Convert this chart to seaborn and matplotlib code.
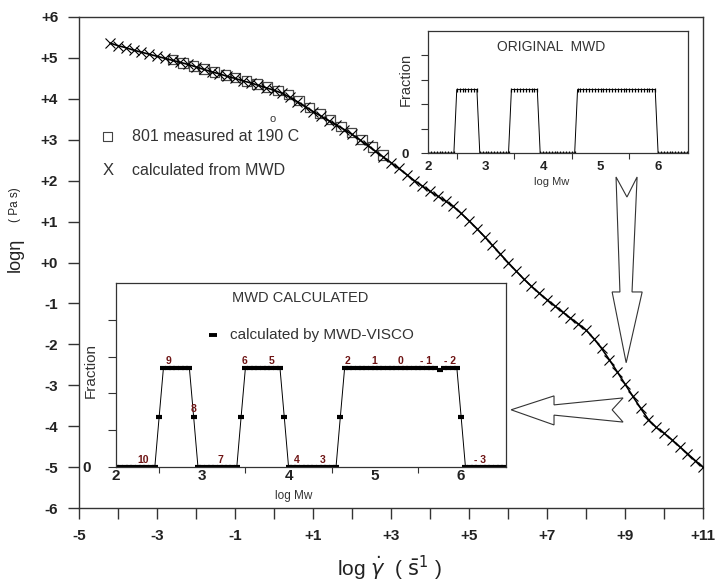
import matplotlib
matplotlib.use("Agg")
import matplotlib.pyplot as plt
from matplotlib.patches import Polygon
import seaborn as sns

# log shear rate / log viscosity, calculated from the MWD (X markers)
calc_rate = [-4.2, -4.0, -3.8, -3.6, -3.4, -3.2, -3.0, -2.8, -2.6, -2.4,
             -2.2, -2.0, -1.8, -1.6, -1.4, -1.2, -1.0, -0.8, -0.6, -0.4,
             -0.2, 0.0, 0.2, 0.4, 0.6, 0.8, 1.0, 1.2, 1.4, 1.6,
             1.8, 2.0, 2.2, 2.4, 2.6, 2.8, 3.0, 3.2, 3.4, 3.6,
             3.8, 4.0, 4.2, 4.4, 4.6, 4.8, 5.0, 5.2, 5.4, 5.6,
             5.8, 6.0, 6.2, 6.4, 6.6, 6.8, 7.0, 7.2, 7.4, 7.6,
             7.8, 8.0, 8.2, 8.4, 8.6, 8.8, 9.0, 9.2, 9.4, 9.6,
             9.8, 10.0, 10.2, 10.4, 10.6, 10.8, 11.0]
calc_visc = [5.36, 5.30, 5.25, 5.19, 5.14, 5.09, 5.04, 4.99, 4.94, 4.89,
             4.84, 4.78, 4.72, 4.66, 4.61, 4.55, 4.50, 4.44, 4.39, 4.33,
             4.27, 4.21, 4.14, 4.04, 3.93, 3.81, 3.69, 3.58, 3.47, 3.36,
             3.25, 3.13, 3.00, 2.86, 2.72, 2.58, 2.44, 2.30, 2.15, 2.00,
             1.87, 1.74, 1.62, 1.50, 1.37, 1.20, 1.02, 0.83, 0.63, 0.42,
             0.21, 0.00, -0.20, -0.40, -0.58, -0.75, -0.91, -1.06, -1.21, -1.36,
             -1.50, -1.65, -1.86, -2.10, -2.38, -2.67, -2.97, -3.27, -3.56, -3.84,
             -4.03, -4.17, -4.33, -4.50, -4.67, -4.84, -5.00]

# 801 measured at 190 C (squares)
meas_rate = [-2.60, -2.33, -2.06, -1.79, -1.52, -1.25, -0.98, -0.71, -0.44, -0.17,
             0.10, 0.37, 0.64, 0.91, 1.18, 1.45, 1.72, 1.99, 2.26, 2.53, 2.80]
meas_visc = [4.96, 4.88, 4.80, 4.73, 4.66, 4.58, 4.52, 4.44, 4.36, 4.29,
             4.21, 4.10, 3.96, 3.79, 3.64, 3.49, 3.33, 3.18, 3.01, 2.82, 2.63]

# MWD bins (log Mw)
mwd_logm = [2.00, 2.05, 2.10, 2.15, 2.20, 2.25, 2.30, 2.35, 2.40, 2.45,
            2.50, 2.55, 2.60, 2.65, 2.70, 2.75, 2.80, 2.85, 2.90, 2.95,
            3.00, 3.05, 3.10, 3.15, 3.20, 3.25, 3.30, 3.35, 3.40, 3.45,
            3.50, 3.55, 3.60, 3.65, 3.70, 3.75, 3.80, 3.85, 3.90, 3.95,
            4.00, 4.05, 4.10, 4.15, 4.20, 4.25, 4.30, 4.35, 4.40, 4.45,
            4.50, 4.55, 4.60, 4.65, 4.70, 4.75, 4.80, 4.85, 4.90, 4.95,
            5.00, 5.05, 5.10, 5.15, 5.20, 5.25, 5.30, 5.35, 5.40, 5.45,
            5.50, 5.55, 5.60, 5.65, 5.70, 5.75, 5.80, 5.85, 5.90, 5.95,
            6.00, 6.05, 6.10, 6.15, 6.20, 6.25, 6.30, 6.35, 6.40, 6.45,
            6.50]
mwd_orig = [0, 0, 0, 0, 0, 0, 0, 0, 0, 0,
            2.6, 2.6, 2.6, 2.6, 2.6, 2.6, 2.6, 2.6, 0, 0,
            0, 0, 0, 0, 0, 0, 0, 0, 0, 2.6,
            2.6, 2.6, 2.6, 2.6, 2.6, 2.6, 2.6, 2.6, 2.6, 0,
            0, 0, 0, 0, 0, 0, 0, 0, 0, 0,
            0, 0, 2.6, 2.6, 2.6, 2.6, 2.6, 2.6, 2.6, 2.6,
            2.6, 2.6, 2.6, 2.6, 2.6, 2.6, 2.6, 2.6, 2.6, 2.6,
            2.6, 2.6, 2.6, 2.6, 2.6, 2.6, 2.6, 2.6, 2.6, 2.6,
            0, 0, 0, 0, 0, 0, 0, 0, 0, 0,
            0]
mwd_calc = [0, 0, 0, 0, 0, 0, 0, 0, 0, 0,
            1.36, 2.7, 2.7, 2.7, 2.7, 2.7, 2.7, 2.7, 1.36, 0,
            0, 0, 0, 0, 0, 0, 0, 0, 0, 1.36,
            2.7, 2.7, 2.7, 2.7, 2.7, 2.7, 2.7, 2.7, 2.7, 1.36,
            0, 0, 0, 0, 0, 0, 0, 0, 0, 0,
            0, 0, 1.36, 2.7, 2.7, 2.7, 2.7, 2.7, 2.7, 2.7,
            2.7, 2.7, 2.7, 2.7, 2.7, 2.7, 2.7, 2.7, 2.7, 2.7,
            2.7, 2.7, 2.7, 2.7, 2.7, 2.63, 2.7, 2.7, 2.7, 2.7,
            1.36, 0, 0, 0, 0, 0, 0, 0, 0, 0,
            0]

# numbered relaxation modes written over the calculated MWD
mode_tags = ["10", "9", "8", "7", "6", "5", "4", "3", "2", "1", "0", "- 1", "- 2", "- 3"]
mode_logm = [2.31, 2.61, 2.90, 3.21, 3.49, 3.80, 4.09, 4.39, 4.68, 4.99, 5.30, 5.59, 5.87, 6.22]
mode_frac = [0.2, 2.87, 1.57, 0.2, 2.87, 2.87, 0.2, 0.2, 2.87, 2.87, 2.87, 2.87, 2.87, 0.2]

y_ticks = [-6, -5, -4, -3, -2, -1, 0, 1, 2, 3, 4, 5, 6]
y_labels = ["-6", "-5", "-4", "-3", "-2", "-1", "+0", "+1", "+2", "+3", "+4", "+5", "+6"]
x_ticks = [-5, -4, -3, -2, -1, 0, 1, 2, 3, 4, 5, 6, 7, 8, 9, 10, 11]
x_labels = ["-5", "", "-3", "", "-1", "", "+1", "", "+3", "", "+5", "", "+7", "", "+9", "", "+11"]
mw_ticks = [2, 3, 4, 5, 6]

# hollow arrows (main axes data coordinates)
down_arrow_x = [8.77, 9.05, 9.31, 9.18, 9.44, 9.03, 8.67, 8.87]
down_arrow_y = [2.09, 1.60, 2.09, -0.72, -0.72, -2.45, -0.72, -0.72]
left_arrow_x = [6.08, 7.18, 7.18, 8.95, 8.67, 8.95, 7.18, 7.18]
left_arrow_y = [-3.60, -3.26, -3.48, -3.31, -3.60, -3.90, -3.73, -3.97]

sns.set_style("ticks")
plt.rcParams["font.family"] = ["Liberation Sans", "DejaVu Sans"]
plt.rcParams["mathtext.fontset"] = "dejavusans"

ink = "#222222"
spine_c = "#333333"

fig = plt.figure(figsize=(7.15, 5.82), dpi=100)
ax = fig.add_axes([79 / 715, 1 - 508 / 582, 624 / 715, 491 / 582])

sns.scatterplot(x=meas_rate, y=meas_visc, ax=ax, marker="s", s=46,
                facecolors="none", edgecolors="#4a4a4a", linewidth=0.9, zorder=2)
sns.lineplot(x=calc_rate, y=calc_visc, ax=ax, color="black", lw=1.2,
             marker="x", markersize=7, markeredgecolor="black",
             markeredgewidth=0.8, zorder=3)

ax.set_xlim(-5, 11)
ax.set_ylim(-6, 6)
ax.set_xticks(x_ticks)
ax.set_xticklabels(x_labels)
ax.set_yticks(y_ticks)
ax.set_yticklabels(y_labels)
ax.tick_params(direction="out", length=8, width=1, color=spine_c, pad=7,
               labelsize=11, labelcolor=ink)
for lab in ax.get_xticklabels() + ax.get_yticklabels():
    lab.set_fontweight("bold")
for sp in ax.spines.values():
    sp.set_color(spine_c)
    sp.set_linewidth(1)
ax.set_xlabel("")
ax.set_ylabel("")

# legend of the main panel
ax.scatter([0.046], [0.756], transform=ax.transAxes, marker="s", s=40,
           facecolors="none", edgecolors="#444444", linewidth=0.8)
ax.text(0.085, 0.756, "801 measured at 190 C", transform=ax.transAxes,
        fontsize=11.5, color="#333333", va="center")
ax.text(0.311, 0.792, "o", transform=ax.transAxes, fontsize=8,
        color="#333333", va="center", ha="center")
ax.text(0.046, 0.688, "X", transform=ax.transAxes, fontsize=12,
        color="#333333", va="center", ha="center")
ax.text(0.085, 0.688, "calculated from MWD", transform=ax.transAxes,
        fontsize=11.5, color="#333333", va="center")

ax.add_patch(Polygon(list(zip(down_arrow_x, down_arrow_y)), closed=True,
                     facecolor="white", edgecolor="#333333", lw=0.8, zorder=4))
ax.add_patch(Polygon(list(zip(left_arrow_x, left_arrow_y)), closed=True,
                     facecolor="white", edgecolor="#333333", lw=0.8, zorder=4))

fig.text(389 / 715, 1 - 568 / 582, r"log $\dot{\gamma}$  ( $\bar{\mathrm{s}}^{1}$ )",
         fontsize=15, color=ink, ha="center", va="center")
fig.text(15 / 715, 1 - 255 / 582, "logη", rotation=90, fontsize=13,
         color=ink, ha="center", va="center")
fig.text(15 / 715, 1 - 205 / 582, "( Pa s)", rotation=90, fontsize=8.5,
         color=ink, ha="center", va="center")


def style_inset(a, label_size, xpad, ypad, ytick_len):
    a.set_xlim(2, 6.52)
    a.set_ylim(0, 5)
    a.set_xticks(mw_ticks)
    a.set_xticklabels([str(t) for t in mw_ticks])
    a.set_xticks([2.5, 3.5, 4.5, 5.5], minor=True)
    a.set_yticks([0, 1, 2, 3, 4])
    a.set_yticklabels(["0", "", "", "", ""])
    a.tick_params(axis="x", which="major", length=0, pad=xpad,
                  labelsize=label_size, labelcolor=ink)
    a.tick_params(axis="x", which="minor", direction="out", length=4,
                  width=0.8, color=spine_c)
    a.tick_params(axis="y", direction="out", length=ytick_len, width=0.8,
                  color=spine_c, pad=ypad, labelsize=label_size, labelcolor=ink)
    for lab in a.get_xticklabels() + a.get_yticklabels():
        lab.set_fontweight("bold")
    for sp in a.spines.values():
        sp.set_color(spine_c)
        sp.set_linewidth(0.9)


# inset: original MWD
ax1 = fig.add_axes([428 / 715, 1 - 153 / 582, 260 / 715, 122 / 582])
sns.lineplot(x=mwd_logm, y=mwd_orig, ax=ax1, color="black", lw=0.7,
             marker="|", markersize=2.2, markeredgecolor="black",
             markeredgewidth=0.9, sort=False)
style_inset(ax1, 9.5, 6, 9, 5)
ax1.set_xlabel("log Mw", fontsize=8, color="#333333")
ax1.xaxis.set_label_coords(0.477, -0.20)
ax1.set_ylabel("Fraction", fontsize=10.5, color="#333333")
ax1.yaxis.set_label_coords(-0.06, 0.607)
ax1.text(0.473, 0.869, "ORIGINAL  MWD", transform=ax1.transAxes,
         fontsize=10, color="#333333", ha="center", va="center")

# inset: MWD calculated
ax2 = fig.add_axes([116 / 715, 1 - 467 / 582, 390 / 715, 184 / 582])
sns.lineplot(x=mwd_logm, y=mwd_calc, ax=ax2, color="black", lw=0.7,
             marker="_", markersize=5, markeredgecolor="black",
             markeredgewidth=3, sort=False)
style_inset(ax2, 11, 1.5, 12, 6)
ax2.set_xlabel("log Mw", fontsize=8.5, color="#333333")
ax2.xaxis.set_label_coords(0.456, -0.125)
ax2.set_ylabel("Fraction", fontsize=11, color="#333333")
ax2.yaxis.set_label_coords(-0.046, 0.527)
ax2.text(0.472, 0.918, "MWD CALCULATED", transform=ax2.transAxes,
         fontsize=10.5, color="#333333", ha="center", va="center")
ax2.scatter([0.249], [0.717], transform=ax2.transAxes, marker="_", s=30,
            color="black", linewidth=2.8)
ax2.text(0.292, 0.717, "calculated by MWD-VISCO", transform=ax2.transAxes,
         fontsize=11, color="#333333", va="center")
for tag, xm, yf in zip(mode_tags, mode_logm, mode_frac):
    ax2.text(xm, yf, tag, fontsize=7.5, fontweight="bold", color="#6e1414",
             ha="center", va="center")

fig.savefig("out.png", dpi=100)
